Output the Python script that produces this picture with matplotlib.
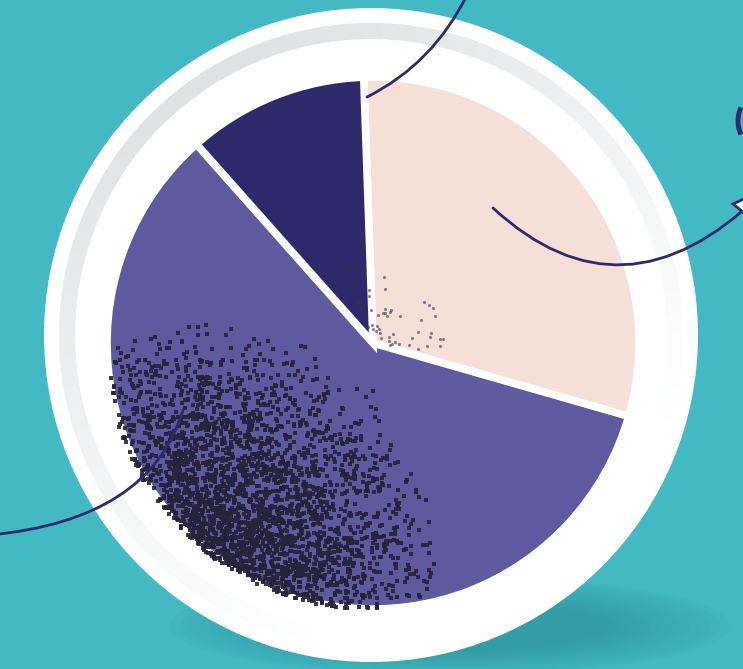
"""Decorative three-slice pie on a plate, teal backdrop."""
import numpy as np
import matplotlib
matplotlib.use("Agg")
import matplotlib.pyplot as plt
from matplotlib.patches import Circle, Wedge, Ellipse, PathPatch, Polygon, Arc
from matplotlib.path import Path
from matplotlib.colors import to_rgb

# ---- data ----
SEGMENTS = ["Segment A", "Segment B", "Segment C"]
SHARES = [30, 59, 11]
COLORS = ["#F5E0D8", "#5F5AA0", "#2E296B"]

# ---- palette ----
TEAL = "#42B9C3"; SHADOW = "#2C8C93"; INK = "#2E2A6B"; DOTS = "#262238"
W, H = 743, 669


def img(x, y):
    # image-pixel coords (y down) -> axes coords (y up)
    return (x, H - y)


fig = plt.figure(figsize=(W / 100, H / 100), dpi=100, facecolor=TEAL)
ax = fig.add_axes([0, 0, 1, 1])
ax.set_facecolor(TEAL)

# soft shadow under the plate
for i in range(14):
    k = i / 13
    ax.add_patch(Ellipse(img(450, 626), 560 - 260 * k, 100 - 50 * k,
                         color=SHADOW, alpha=0.05, lw=0, zorder=1))

# plate + fading grey rim
PC = img(371, 335)
ax.add_patch(Circle(PC, 327, color="white", lw=0, zorder=2))
g0, g1 = np.array(to_rgb("#DFE1E3")), np.array(to_rgb("#FFFFFF"))
for a in range(0, 360, 2):
    t = (1 - np.cos(np.radians(a - 120))) / 2
    c = g0 + (g1 - g0) * min(1, t ** 0.8 * 1.1)
    ax.add_patch(Wedge(PC, 312, a, a + 2.5, width=16, color=c, lw=0, zorder=3))

# pie
CEN = img(373, 343)
R = 266
wedges, _ = ax.pie(SHARES, colors=COLORS, startangle=92, counterclock=False,
                   center=CEN, radius=R, frame=True,
                   wedgeprops=dict(edgecolor="white", linewidth=5.5))
for w in wedges:
    w.set_zorder(4)

# stipple texture on the big slice (decorative noise, fixed seed):
# a blob anchored on the lower-left rim that thins out with distance
rng = np.random.default_rng(5)
n = 24000
RMAX = 240
bx, by = img(205, 555)
u = np.sqrt(rng.uniform(0, 1, n))
th = rng.uniform(0, 2 * np.pi, n)
px, py = bx + RMAX * u * np.cos(th), by + RMAX * u * np.sin(th)
accept = rng.uniform(0, 1, n) < (1 - u) ** 1.2
dx, dy = px - CEN[0], py - CEN[1]
rr = np.hypot(dx, dy)
aa = np.degrees(np.arctan2(dy, dx)) % 360
keep = accept & (rr < R + 1.5) & (aa > 134) & (aa < 342) & (rr > 8)
ax.scatter(px[keep], py[keep], s=6, marker="s", color=DOTS, alpha=0.9, lw=0, zorder=5)
# sparse dots near the centre
m = 55
a2 = np.radians(rng.uniform(-20, 130, m))
r2 = rng.uniform(8, 80, m)
ax.scatter(CEN[0] + r2 * np.cos(a2), CEN[1] + r2 * np.sin(a2), s=5,
           marker="o", color="#3A3348", alpha=0.6, lw=0, zorder=5)

# connector curves


def curve(p0, p1, p2):
    path = Path([img(*p0), img(*p1), img(*p2)], [Path.MOVETO, Path.CURVE3, Path.CURVE3])
    ax.add_patch(PathPatch(path, fc="none", ec=INK, lw=2, zorder=7, capstyle="round"))


curve((493, 208), (623, 328), (760, 195))
curve((367, 97), (433, 64), (467, -5))
curve((183, 410), (150, 520), (-10, 535))
ax.add_patch(Polygon([img(733, 204), img(748, 197), img(748, 216)], closed=True,
                     fc="white", ec=INK, lw=2, zorder=8))
ax.add_patch(Arc(img(770, 121), 64, 64, theta1=155, theta2=205, ec=INK, lw=3.5, zorder=8))

ax.set_xlim(0, W); ax.set_ylim(0, H)
ax.set_aspect("equal")
ax.axis("off")
fig.savefig("out.png", dpi=100, facecolor=TEAL)
